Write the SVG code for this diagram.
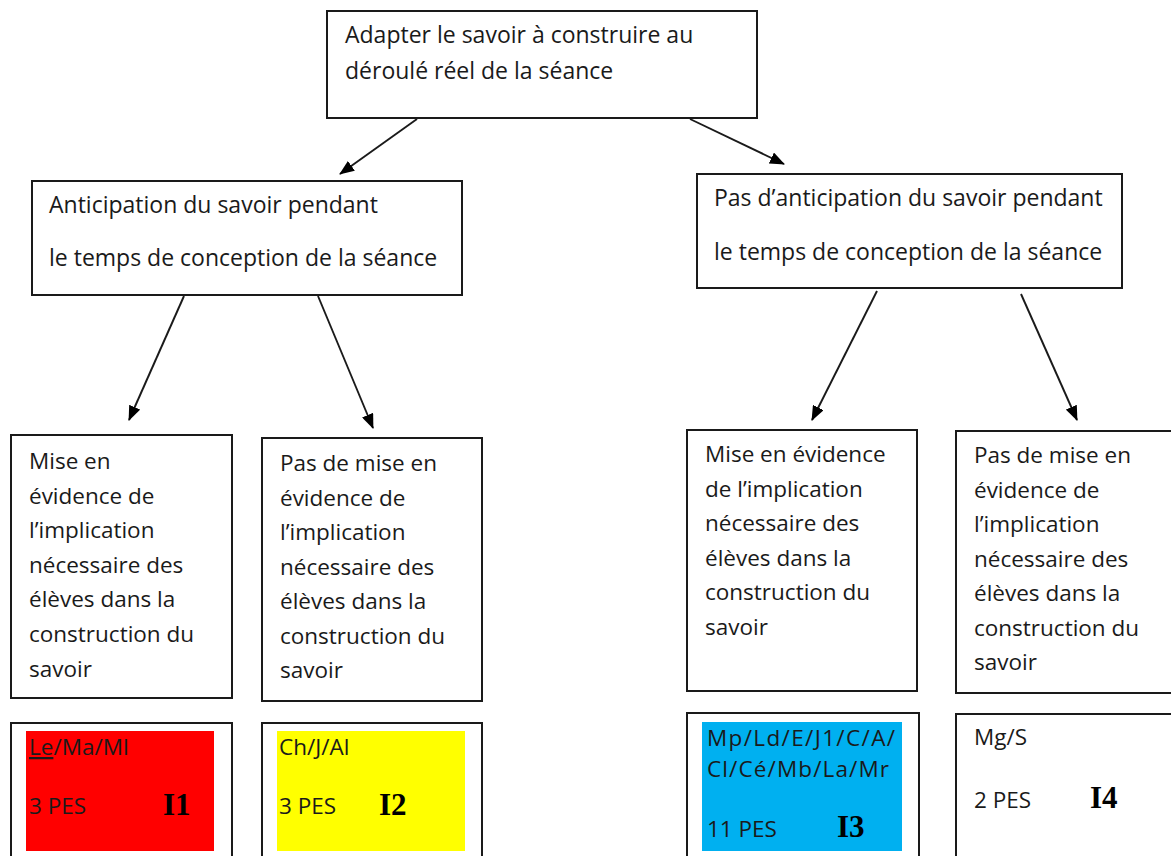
<svg xmlns="http://www.w3.org/2000/svg" width="1171" height="856" viewBox="0 0 1171 856">
<style>
.box{fill:#fff;stroke:#1a1a1a;stroke-width:2}
.t{font-family:"Open Sans","Liberation Sans",sans-serif;font-size:22.5px;fill:#1a1a1a}
.tc{font-family:"Open Sans","Liberation Sans",sans-serif;font-size:23px;fill:#1a1a1a}
.big{font-family:"Liberation Serif",serif;font-size:31px;font-weight:bold;fill:#000}
.conn{stroke:#1a1a1a;stroke-width:1.9;fill:none;marker-end:url(#ah)}
</style>
<defs>
<marker id="ah" viewBox="0 0 15 12" refX="14" refY="6" markerWidth="15" markerHeight="12" markerUnits="userSpaceOnUse" orient="auto">
<path d="M0,0 L15,6 L0,12 Z" fill="#000"/>
</marker>
</defs>
<rect width="1171" height="856" fill="#fff"/>

<g id="connectors">
<line class="conn" x1="417" y1="119" x2="340" y2="174"/>
<line class="conn" x1="690" y1="119" x2="784" y2="164"/>
<line class="conn" x1="184" y1="296" x2="129" y2="420"/>
<line class="conn" x1="318" y1="296" x2="373" y2="428"/>
<line class="conn" x1="877" y1="291" x2="812" y2="420"/>
<line class="conn" x1="1021" y1="294" x2="1077" y2="420"/>
</g>

<g id="root">
<rect class="box" x="327" y="11" width="430" height="107"/>
<text class="tc" x="345" y="43">Adapter le savoir à construire au</text>
<text class="tc" x="345" y="79">déroulé réel de la séance</text>
</g>

<g id="anticipation">
<rect class="box" x="32" y="181" width="430" height="114"/>
<text class="tc" x="49" y="213">Anticipation du savoir pendant</text>
<text class="tc" x="49" y="266">le temps de conception de la séance</text>
</g>

<g id="pas-anticipation">
<rect class="box" x="697" y="174" width="425" height="114"/>
<text class="tc" x="714" y="206">Pas d’anticipation du savoir pendant</text>
<text class="tc" x="714" y="260">le temps de conception de la séance</text>
</g>

<g id="mise1">
<rect class="box" x="11" y="435" width="221" height="263"/>
<text class="t" x="29" y="469">Mise en</text>
<text class="t" x="29" y="504">évidence de</text>
<text class="t" x="29" y="538">l’implication</text>
<text class="t" x="29" y="573">nécessaire des</text>
<text class="t" x="29" y="607">élèves dans la</text>
<text class="t" x="29" y="642">construction du</text>
<text class="t" x="29" y="677">savoir</text>
</g>

<g id="pasmise1">
<rect class="box" x="262" y="438" width="220" height="263"/>
<text class="t" x="280" y="471">Pas de mise en</text>
<text class="t" x="280" y="506">évidence de</text>
<text class="t" x="280" y="540">l’implication</text>
<text class="t" x="280" y="575">nécessaire des</text>
<text class="t" x="280" y="609">élèves dans la</text>
<text class="t" x="280" y="644">construction du</text>
<text class="t" x="280" y="678">savoir</text>
</g>

<g id="mise2">
<rect class="box" x="687" y="430" width="230" height="261"/>
<text class="t" x="705" y="462">Mise en évidence</text>
<text class="t" x="705" y="497">de l’implication</text>
<text class="t" x="705" y="531">nécessaire des</text>
<text class="t" x="705" y="566">élèves dans la</text>
<text class="t" x="705" y="600">construction du</text>
<text class="t" x="705" y="635">savoir</text>
</g>

<g id="pasmise2">
<rect class="box" x="956" y="431" width="230" height="262"/>
<text class="t" x="974" y="463">Pas de mise en</text>
<text class="t" x="974" y="498">évidence de</text>
<text class="t" x="974" y="532">l’implication</text>
<text class="t" x="974" y="567">nécessaire des</text>
<text class="t" x="974" y="601">élèves dans la</text>
<text class="t" x="974" y="636">construction du</text>
<text class="t" x="974" y="670">savoir</text>
</g>

<g id="I1">
<rect class="box" x="11" y="723" width="221" height="150"/>
<rect x="26" y="731" width="188" height="120" fill="#ff0000"/>
<text class="t" x="29" y="755"><tspan text-decoration="underline">Le</tspan>/Ma/MI</text>
<text class="t" x="29" y="814">3 PES</text>
<text class="big" x="163" y="815">I1</text>
</g>

<g id="I2">
<rect class="box" x="262" y="723" width="220" height="150"/>
<rect x="277" y="731" width="188" height="120" fill="#ffff00"/>
<text class="t" x="279" y="755">Ch/J/Al</text>
<text class="t" x="279" y="814">3 PES</text>
<text class="big" x="379" y="815">I2</text>
</g>

<g id="I3">
<rect class="box" x="687" y="713" width="232" height="160"/>
<rect x="702" y="722" width="200" height="129" fill="#00b0f0"/>
<text class="t" x="707" y="746" textLength="188" lengthAdjust="spacing">Mp/Ld/E/J1/C/A/</text>
<text class="t" x="707" y="777" textLength="182" lengthAdjust="spacing">Cl/Cé/Mb/La/Mr</text>
<text class="t" x="707" y="837">11 PES</text>
<text class="big" x="837" y="837">I3</text>
</g>

<g id="I4">
<rect class="box" x="956" y="714" width="230" height="160"/>
<text class="t" x="974" y="745">Mg/S</text>
<text class="t" x="974" y="808">2 PES</text>
<text class="big" x="1090" y="808">I4</text>
</g>
</svg>
